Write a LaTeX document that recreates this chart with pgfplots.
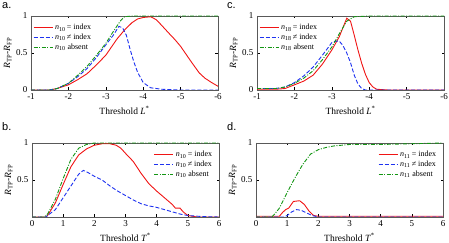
\documentclass[border=0pt]{standalone}
\usepackage{pgfplots}
\pgfplotsset{compat=1.18}
\usepackage{fontspec}
\setmainfont{Liberation Serif}
\newfontfamily\sansf{Liberation Sans}
\definecolor{cR}{RGB}{240,20,20}
\definecolor{cB}{RGB}{30,50,240}
\definecolor{cG}{RGB}{20,150,20}
\tikzset{
  sR/.style={color=cR, line width=0.9pt, solid},
  sB/.style={color=cB, line width=0.9pt, dash pattern=on 4pt off 2pt},
  sG/.style={color=cG, line width=0.9pt, dash pattern=on 4pt off 1.5pt on 1pt off 1.5pt},
}
\pgfplotsset{
  legend image code/.code={\draw[#1] (0pt,0pt) -- (19pt,0pt);},
  panel/.style={scale only axis, width=187pt, height=74pt,
    axis line style={black!65, line width=0.6pt},
    tick style={black, line width=0.4pt}, tick align=inside, major tick length=2.5pt,
    ticklabel style={font=\fontsize{9}{9}\selectfont},
    label style={font=\fontsize{9.5}{10}\selectfont},
    /pgf/number format/assume math mode=true,
    ymin=0, ymax=1,
    legend style={draw=none, fill=none, font=\fontsize{8}{8}\selectfont, inner sep=1pt, row sep=-1.5pt},
    legend cell align=left,
    ylabel={\textit{R}\textsubscript{TP}-\textit{R}\textsubscript{FP}},
    ylabel style={yshift=-2pt},
  },
  % L* axis: values are negative, shown growing more negative to the right
  Laxis/.style={x filter/.expression={-x}, xmin=1, xmax=6,
    xtick={1,2,3,4,5,6}, xticklabels={-1,-2,-3,-4,-5,-6},
    ytick={0,0.5,1}, yticklabels={0,0.5,1},
    xlabel={Threshold \textit{L}\textsuperscript{*}},
    legend style={at={(0.005,0.93)}, anchor=north west}},
}
\begin{document}
\begin{tikzpicture}
\useasboundingbox (0,0) rectangle (449pt,243pt);
% panel a
\begin{axis}[panel, Laxis, at={(31pt,227pt)}, anchor=north west]
\addplot[sR] coordinates {(-1,0) (-1.5,0) (-1.7,0.02) (-2,0.07) (-2.25,0.14) (-2.5,0.22) (-2.75,0.34) (-3,0.47) (-3.3,0.69) (-3.5,0.81) (-3.7,0.91) (-3.85,0.96) (-4,0.98) (-4.2,0.99) (-4.35,0.95) (-4.5,0.87) (-4.7,0.76) (-4.85,0.68) (-5,0.59) (-5.15,0.48) (-5.3,0.37) (-5.5,0.23) (-5.65,0.16) (-5.8,0.11) (-6,0.05)};
\addlegendentry{\textit{n}\textsubscript{10}\,= index}
\addplot[sB] coordinates {(-1,0) (-1.5,0) (-1.7,0.02) (-2,0.09) (-2.25,0.18) (-2.5,0.29) (-2.75,0.44) (-3,0.61) (-3.2,0.74) (-3.35,0.86) (-3.45,0.84) (-3.55,0.74) (-3.65,0.55) (-3.75,0.38) (-3.85,0.24) (-4,0.1) (-4.2,0.03) (-4.5,0.01) (-5,0) (-6,0)};
\addlegendentry{\textit{n}\textsubscript{10}\,≠ index}
\addplot[sG] coordinates {(-1,0) (-1.5,0) (-1.7,0.02) (-2,0.09) (-2.25,0.2) (-2.5,0.32) (-2.75,0.47) (-3,0.63) (-3.2,0.79) (-3.4,0.94) (-3.5,0.99) (-3.7,1) (-6,1)};
\addlegendentry{\textit{n}\textsubscript{10} absent}
\end{axis}
% panel c
\begin{axis}[panel, Laxis, at={(257pt,227pt)}, anchor=north west]
\addplot[sR] coordinates {(-1,0.01) (-1.5,0.01) (-1.75,0.02) (-2,0.07) (-2.25,0.12) (-2.5,0.2) (-2.75,0.35) (-3,0.54) (-3.2,0.72) (-3.4,0.97) (-3.5,0.93) (-3.6,0.74) (-3.7,0.54) (-3.8,0.36) (-3.9,0.21) (-4,0.1) (-4.1,0.04) (-4.2,0.01) (-4.5,0) (-6,0)};
\addlegendentry{\textit{n}\textsubscript{18}\,= index}
\addplot[sB] coordinates {(-1,0.02) (-1.5,0.02) (-1.75,0.04) (-2,0.1) (-2.25,0.19) (-2.5,0.31) (-2.75,0.47) (-3,0.64) (-3.1,0.66) (-3.2,0.66) (-3.3,0.6) (-3.4,0.5) (-3.5,0.37) (-3.6,0.2) (-3.7,0.08) (-3.8,0.02) (-3.9,0) (-6,0)};
\addlegendentry{\textit{n}\textsubscript{18}\,≠ index}
\addplot[sG] coordinates {(-1,0.02) (-1.5,0.02) (-1.75,0.04) (-2,0.09) (-2.25,0.16) (-2.5,0.26) (-2.75,0.41) (-3,0.58) (-3.2,0.76) (-3.4,0.93) (-3.6,0.99) (-4,1) (-6,1)};
\addlegendentry{\textit{n}\textsubscript{18} absent}
\end{axis}
% panel b
\begin{axis}[panel, at={(32pt,100pt)}, anchor=north west,
  xmin=0, xmax=6, xtick={0,1,2,3,4,5,6},
  ytick={0.5,1}, yticklabels={0.5,1},
  xlabel={Threshold \textit{T}\textsuperscript{*}},
  legend style={at={(0.98,0.93)}, anchor=north east}]
\addplot[sR] coordinates {(0,0) (0.45,0) (0.5,0.02) (0.75,0.19) (1,0.44) (1.25,0.68) (1.5,0.84) (1.75,0.92) (2,0.97) (2.25,0.99) (2.5,0.99) (2.7,0.97) (2.85,0.93) (3,0.86) (3.25,0.75) (3.5,0.59) (3.75,0.45) (4,0.35) (4.25,0.26) (4.5,0.17) (4.6,0.12) (4.75,0.12) (4.85,0.07) (5,0.02) (5.3,0) (6,0)};
\addlegendentry{\textit{n}\textsubscript{10}\,= index}
\addplot[sB] coordinates {(0,0) (0.45,0) (0.5,0.02) (0.75,0.1) (1,0.26) (1.25,0.42) (1.5,0.58) (1.65,0.63) (1.8,0.6) (2,0.55) (2.25,0.5) (2.5,0.42) (2.75,0.35) (3,0.29) (3.25,0.23) (3.5,0.18) (3.75,0.15) (4,0.13) (4.25,0.1) (4.5,0.07) (4.75,0.04) (5,0.02) (5.5,0.005) (6,0)};
\addlegendentry{\textit{n}\textsubscript{10}\,≠ index}
\addplot[sG] coordinates {(0,0) (0.4,0) (0.5,0.04) (0.75,0.24) (1,0.52) (1.25,0.78) (1.5,0.93) (1.75,0.98) (2,1) (6,1)};
\addlegendentry{\textit{n}\textsubscript{10} absent}
\end{axis}
% panel d
\begin{axis}[panel, at={(256pt,100pt)}, anchor=north west,
  xmin=0, xmax=6, xtick={0,1,2,3,4,5,6},
  ytick={0.5,1}, yticklabels={0.5,1},
  xlabel={Threshold \textit{T}\textsuperscript{*}},
  legend style={at={(0.98,0.93)}, anchor=north east}]
\addplot[sR] coordinates {(0,0.01) (0.75,0.01) (0.85,0.06) (0.95,0.1) (1.05,0.12) (1.2,0.21) (1.4,0.22) (1.55,0.17) (1.7,0.08) (1.85,0.02) (2,0.01) (6,0.01)};
\addlegendentry{\textit{n}\textsubscript{11}\,= index}
\addplot[sB] coordinates {(0,0) (0.9,0) (1.0,0.02) (1.15,0.07) (1.3,0.1) (1.45,0.09) (1.6,0.06) (1.8,0.02) (2,0) (6,0)};
\addlegendentry{\textit{n}\textsubscript{11}\,≠ index}
\addplot[sG] coordinates {(0,0) (0.5,0) (0.6,0.04) (0.75,0.12) (1,0.33) (1.25,0.53) (1.5,0.71) (1.75,0.85) (2,0.91) (2.25,0.94) (2.5,0.96) (3,0.98) (4,0.98) (5,0.99) (6,1)};
\addlegendentry{\textit{n}\textsubscript{11} absent}
\end{axis}
\node[anchor=north west, inner sep=1pt, font=\sansf\fontsize{11}{11}\selectfont] at (1pt,241.5pt) {a.};
\node[anchor=north west, inner sep=1pt, font=\sansf\fontsize{11}{11}\selectfont] at (226pt,241.5pt) {c.};
\node[anchor=north west, inner sep=1pt, font=\sansf\fontsize{11}{11}\selectfont] at (1pt,122pt) {b.};
\node[anchor=north west, inner sep=1pt, font=\sansf\fontsize{11}{11}\selectfont] at (226pt,122pt) {d.};
\end{tikzpicture}
\end{document}
